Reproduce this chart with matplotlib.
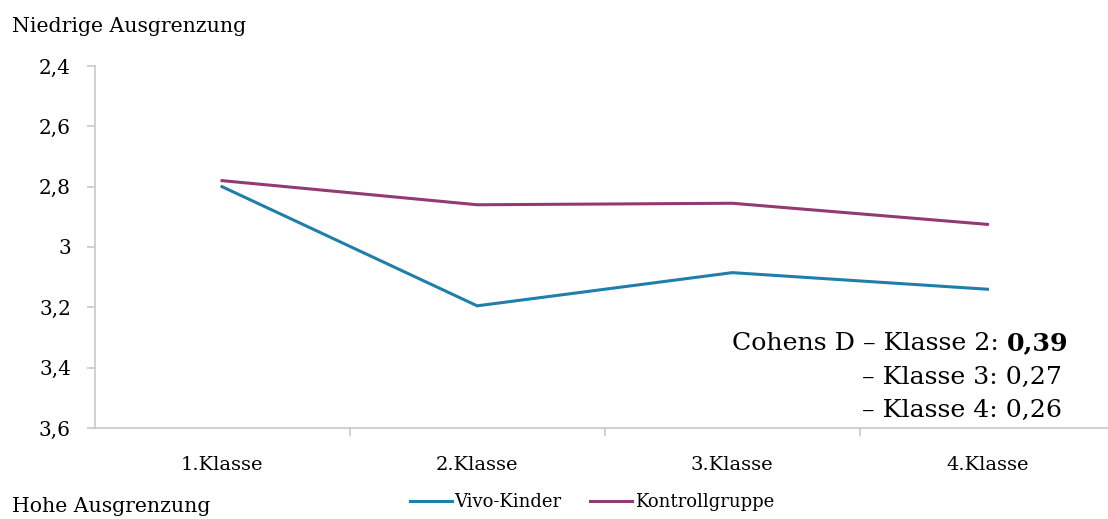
import numpy as np
import matplotlib.pyplot as plt
from matplotlib.lines import Line2D

# data
klassen = ['1.Klasse', '2.Klasse', '3.Klasse', '4.Klasse']
vivo = [2.80, 3.195, 3.085, 3.14]
kontroll = [2.78, 2.86, 2.855, 2.925]
y_ticks = [2.4, 2.6, 2.8, 3.0, 3.2, 3.4, 3.6]
y_labels = ['2,4', '2,6', '2,8', '3', '3,2', '3,4', '3,6']
cohens = [('Klasse 2', '0,39'), ('Klasse 3', '0,27'), ('Klasse 4', '0,26')]

plt.rcParams['font.family'] = ['DejaVu Serif']

W, H = 1108, 519
fig = plt.figure(figsize=(W / 100, H / 100), dpi=100)
ax = fig.add_axes([94.5 / W, 91 / H, (1115 - 94.5) / W, 362 / H])

blue = '#1f7fa8'
purple = '#923a73'
x = np.arange(len(klassen))
ax.plot(x, vivo, color=blue, lw=2.2, solid_joinstyle='miter')
ax.plot(x, kontroll, color=purple, lw=2.2, solid_joinstyle='miter')

ax.set_xlim(-0.5, len(klassen) - 0.5)
ax.set_ylim(3.6, 2.4)

grey = '#c8c8c8'
for s in ['top', 'right']:
    ax.spines[s].set_visible(False)
ax.spines['left'].set_color(grey)
ax.spines['bottom'].set_color(grey)
ax.spines['left'].set_linewidth(1.2)
ax.spines['bottom'].set_linewidth(1.2)

ax.set_yticks(y_ticks)
ax.set_yticklabels(y_labels, fontsize=14.5)
ax.tick_params(axis='y', length=6, color=grey, width=1.2, pad=11)
ax.set_xticks(x)
ax.set_xticklabels(klassen, fontsize=14)
ax.tick_params(axis='x', which='major', length=0, pad=20)
ax.set_xticks(np.arange(0.5, len(klassen) - 0.5, 1), minor=True)
ax.tick_params(axis='x', which='minor', length=6, color=grey, width=1.2)

fig.text(12 / W, 1 - 27 / H, 'Niedrige Ausgrenzung', fontsize=14.7, va='center', ha='left')
fig.text(12 / W, 1 - 507 / H, 'Hohe Ausgrenzung', fontsize=14.7, va='center', ha='left')

handles = [Line2D([], [], color=blue, lw=2.2), Line2D([], [], color=purple, lw=2.2)]
fig.legend(handles, ['Vivo-Kinder', 'Kontrollgruppe'], loc='center',
           bbox_to_anchor=(592 / W, 1 - 502 / H), ncol=2, frameon=False,
           fontsize=13, handlelength=2.3, handletextpad=0.15, columnspacing=1.6)

# Cohens D annotation, first value in bold
fs = 18.2
fig.canvas.draw()
r = fig.canvas.get_renderer()
bold = fig.text(1068 / W, 1 - 343 / H, cohens[0][1], fontsize=fs, fontweight='bold',
                ha='right', va='center')
bb = bold.get_window_extent(renderer=r)
fig.text(bb.x0 / W, 1 - 343 / H, 'Cohens D \u2013 ' + cohens[0][0] + ': ', fontsize=fs,
         ha='right', va='center')
for i, (k, v) in enumerate(cohens[1:]):
    fig.text(862 / W, 1 - (377 + 33 * i) / H, '\u2013 ' + k + ': ' + v, fontsize=fs,
             ha='left', va='center')

fig.savefig('out.png', dpi=100)
